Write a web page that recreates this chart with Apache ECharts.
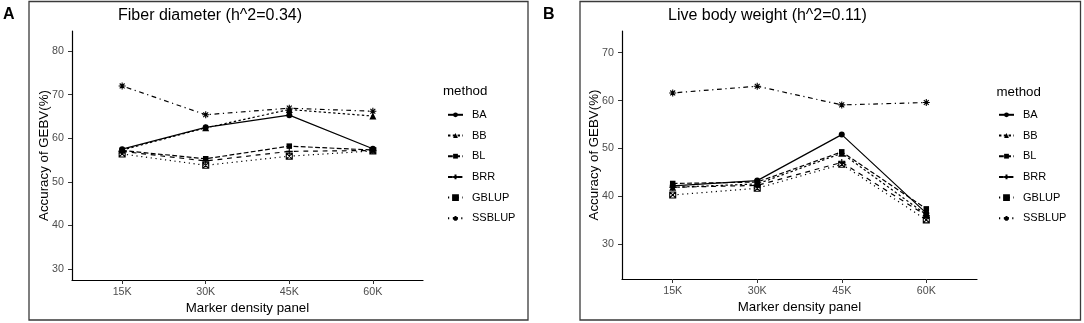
<!DOCTYPE html>
<html>
<head>
<meta charset="utf-8">
<script src="https://cdn.jsdelivr.net/npm/echarts@6/dist/echarts.min.js"></script>
<style>
  html, body { margin: 0; padding: 0; background: #fff; }
  #main { width: 1084px; height: 323px; }
</style>
</head>
<body>
<div id="main"></div>
<script>
// 数据
var categories = ['15K', '30K', '45K', '60K'];
var methods = ['BA', 'BB', 'BL', 'BRR', 'GBLUP', 'SSBLUP'];

// Fiber diameter (h^2=0.34)
var fiberBA = [57.5, 62.5, 65.3, 57.6];
var fiberBB = [57.3, 62.4, 66.6, 65.1];
var fiberBL = [57.2, 55.3, 58.2, 57.3];
var fiberBRR = [57.0, 54.8, 57.0, 57.2];
var fiberGBLUP = [56.4, 53.8, 55.9, 57.1];
var fiberSSBLUP = [72.0, 65.4, 66.9, 66.2];

// Live body weight (h^2=0.11)
var weightBA = [42.2, 43.3, 52.9, 36.5];
var weightBB = [41.9, 42.6, 49.0, 36.2];
var weightBL = [42.7, 43.0, 49.3, 37.4];
var weightBRR = [41.9, 42.3, 47.1, 36.0];
var weightGBLUP = [40.3, 41.7, 46.7, 35.1];
var weightSSBLUP = [61.6, 63.0, 59.1, 59.6];

var fiberTicks = [30, 40, 50, 60, 70, 80];
var weightTicks = [30, 40, 50, 60, 70];

var FONT = 'Liberation Sans, Arial, sans-serif';

// 线型和点形状 (ggplot 默认顺序)
var styles = {
    BA: { dash: 'solid', symbol: 'circle', size: 6, open: false },
    BB: { dash: [2.4, 2.4], symbol: 'triangle', size: 7, open: false },
    BL: { dash: [4.8, 2.4], symbol: 'rect', size: 5.5, open: false },
    BRR: { dash: [4.8, 4.8], symbol: 'path://M5,0 L5,10 M0,5 L10,5', size: 7, open: true },
    GBLUP: { dash: [1.2, 3.6], symbol: 'path://M0,0 L10,0 L10,10 L0,10 Z M0,0 L10,10 M10,0 L0,10', size: 6, open: true },
    SSBLUP: { dash: [1.2, 3.6, 4.8, 3.6], symbol: 'path://M5,0 L5,10 M0,5 L10,5 M1.5,1.5 L8.5,8.5 M8.5,1.5 L1.5,8.5', size: 7, open: true }
};

var fiberData = { BA: fiberBA, BB: fiberBB, BL: fiberBL, BRR: fiberBRR, GBLUP: fiberGBLUP, SSBLUP: fiberSSBLUP };
var weightData = { BA: weightBA, BB: weightBB, BL: weightBL, BRR: weightBRR, GBLUP: weightGBLUP, SSBLUP: weightSSBLUP };

function makeSeries(dataMap, idx) {
    return methods.map(function (m) {
        var s = styles[m];
        return {
            name: m,
            type: 'line',
            xAxisIndex: idx,
            yAxisIndex: idx,
            symbol: s.symbol,
            symbolSize: s.size,
            showAllSymbol: true,
            data: dataMap[m].map(function (v, i) { return [i + 1, v]; }),
            lineStyle: { color: '#000', width: 1.2, type: s.dash },
            itemStyle: s.open
                ? { color: 'rgba(0,0,0,0)', borderColor: '#000', borderWidth: 1.1 }
                : { color: '#000', borderWidth: 0 },
            emphasis: { disabled: true }
        };
    });
}

function xAxisFor(idx) {
    return {
        type: 'value', gridIndex: idx, min: 0.4, max: 4.6,
        name: 'Marker density panel', nameLocation: 'middle', nameGap: 22, nameMoveOverlap: false,
        nameTextStyle: { color: '#000', fontSize: 13.3, fontFamily: FONT },
        axisLine: { show: true, lineStyle: { color: '#000', width: 1.2 } },
        axisTick: { show: true, length: 4, customValues: [1, 2, 3, 4], lineStyle: { color: '#333' } },
        axisLabel: {
            customValues: [1, 2, 3, 4], margin: 7, color: '#4d4d4d', fontSize: 10.7, fontFamily: FONT,
            formatter: function (v) { return categories[Math.round(v) - 1]; }
        },
        splitLine: { show: false }
    };
}

function yAxisFor(idx, min, max, ticks) {
    return {
        type: 'value', gridIndex: idx, min: min, max: max,
        name: 'Accuracy of GEBV(%)', nameLocation: 'middle', nameGap: 21, nameMoveOverlap: false,
        nameTextStyle: { color: '#000', fontSize: 13.3, fontFamily: FONT },
        axisLine: { show: true, lineStyle: { color: '#000', width: 1.2 } },
        axisTick: { show: true, length: 4, customValues: ticks, lineStyle: { color: '#333' } },
        axisLabel: { customValues: ticks, margin: 8, color: '#4d4d4d', fontSize: 10.7, fontFamily: FONT },
        splitLine: { show: false }
    };
}

function legendFor(left) {
    return {
        orient: 'vertical', left: left, top: 109.3, padding: 0,
        data: methods,
        itemWidth: 15, itemHeight: 6, itemGap: 9.7,
        selectedMode: false,
        textStyle: { color: '#000', fontSize: 11, fontFamily: FONT, lineHeight: 10, padding: [0, 0, 0, 4] }
    };
}

function txt(x, y, text, size, weight) {
    return {
        type: 'text', x: x, y: y, silent: true,
        style: { text: text, fill: '#000', font: (weight || 'normal') + ' ' + size + 'px ' + FONT, verticalAlign: 'middle' }
    };
}

var myChart = echarts.init(document.getElementById('main'));

var option = {
    animation: false,
    backgroundColor: '#fff',
    grid: [
        { left: 72, top: 31, width: 351, height: 249 },
        { left: 622, top: 31, width: 355, height: 248 }
    ],
    xAxis: [xAxisFor(0), xAxisFor(1)],
    yAxis: [yAxisFor(0, 27.5, 84.6, fiberTicks), yAxisFor(1, 22.76, 74.53, weightTicks)],
    legend: [legendFor(447), legendFor(998)],
    series: makeSeries(fiberData, 0).concat(makeSeries(weightData, 1)),
    graphic: [
        { type: 'rect', silent: true, shape: { x: 29, y: 1.5, width: 499, height: 318.5 }, style: { fill: 'none', stroke: '#3a3a3a', lineWidth: 1.3 } },
        { type: 'rect', silent: true, shape: { x: 580, y: 1.5, width: 500.5, height: 318.5 }, style: { fill: 'none', stroke: '#3a3a3a', lineWidth: 1.3 } },
        txt(3, 14.5, 'A', 16, 'bold'),
        txt(543, 14.5, 'B', 16, 'bold'),
        txt(118, 16, 'Fiber diameter (h^2=0.34)', 16),
        txt(668, 16, 'Live body weight (h^2=0.11)', 16),
        txt(443, 91, 'method', 13.3),
        txt(996.5, 92, 'method', 13.3)
    ]
};

myChart.setOption(option);
</script>
</body>
</html>
